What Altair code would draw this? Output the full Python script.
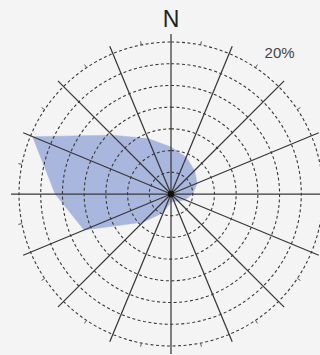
import altair as alt
import numpy as np
import pandas as pd

# Wind rose: frequency (%) of wind from each of 16 compass directions
directions = ["N", "NNE", "NE", "ENE", "E", "ESE", "SE", "SSE",
              "S", "SSW", "SW", "WSW", "W", "WNW", "NW", "NNW"]
freq = [6.5, 5.5, 4.6, 3.9, 3.0, 2.1, 1.4, 1.1,
        1.1, 2.8, 5.5, 13.0, 16.0, 20.7, 11.5, 8.3]
ring_levels = [3, 6, 9, 12, 15, 18, 21]

OUTER = 21.0
SPOKE = 22.1
PX = 152 / OUTER          # pixels per percent
W, H = 320, 355
CX, CY = 171, 194          # centre of the rose in the view

xdom = [-CX / PX, (W - CX) / PX]
ydom = [-(H - CY) / PX, CY / PX]
xs = alt.Scale(domain=xdom, nice=False, zero=False)
ys = alt.Scale(domain=ydom, nice=False, zero=False)

GRID = "#383838"
FILL = "#a9b6dd"

rose = pd.DataFrame({
    "dir": directions,
    "freq": freq,
    "idx": range(len(directions)),
})
rose["angle"] = rose["idx"] * 22.5

polygon = alt.Chart(rose).transform_calculate(
    px="datum.freq * sin(datum.angle * PI / 180)",
    py="datum.freq * cos(datum.angle * PI / 180)",
).mark_line(interpolate="linear-closed", fill=FILL, stroke=FILL,
            strokeWidth=0.5).encode(
    x=alt.X("px:Q", scale=xs, axis=None),
    y=alt.Y("py:Q", scale=ys, axis=None),
    order=alt.Order("idx:Q"),
)

# Dashed concentric rings
theta = np.arange(0, 361, 2.0)
rings = pd.DataFrame(
    [(lvl, t) for lvl in ring_levels for t in theta],
    columns=["level", "t"],
)
ring_layer = alt.Chart(rings).transform_calculate(
    rx="datum.level * sin(datum.t * PI / 180)",
    ry="datum.level * cos(datum.t * PI / 180)",
).mark_line(stroke="#3a3a3a", strokeWidth=1.1, strokeDash=[3, 2.5]).encode(
    x=alt.X("rx:Q", scale=xs, axis=None),
    y=alt.Y("ry:Q", scale=ys, axis=None),
    detail="level:N",
    order=alt.Order("t:Q"),
)

# Radial spokes for the 16 directions
spokes = alt.Chart(rose).transform_calculate(
    x0="0", y0="0",
    x1=f"{SPOKE} * sin(datum.angle * PI / 180)",
    y1=f"{SPOKE} * cos(datum.angle * PI / 180)",
).mark_rule(stroke=GRID, strokeWidth=1.25).encode(
    x=alt.X("x0:Q", scale=xs, axis=None),
    y=alt.Y("y0:Q", scale=ys, axis=None),
    x2="x1:Q",
    y2="y1:Q",
)

# Small ticks on the outer ring, midway between spokes
ticks = alt.Chart(rose).transform_calculate(
    a="(datum.angle + 11.25) * PI / 180",
    x0=f"{OUTER} * sin(datum.a)",
    y0=f"{OUTER} * cos(datum.a)",
    x1=f"{OUTER + 0.5} * sin(datum.a)",
    y1=f"{OUTER + 0.5} * cos(datum.a)",
).mark_rule(stroke="#555555", strokeWidth=1).encode(
    x=alt.X("x0:Q", scale=xs, axis=None),
    y=alt.Y("y0:Q", scale=ys, axis=None),
    x2="x1:Q",
    y2="y1:Q",
)

centre = alt.Chart(pd.DataFrame({"x": [0], "y": [0]})).mark_point(
    filled=True, color="#111111", size=40, opacity=1
).encode(
    x=alt.X("x:Q", scale=xs, axis=None),
    y=alt.Y("y:Q", scale=ys, axis=None),
)

labels = pd.DataFrame({
    "text": ["N", "20%"],
    "lx": [0.0, 15.0],
    "ly": [24.1, 19.5],
})
north = alt.Chart(labels.iloc[[0]]).mark_text(
    fontSize=23, color="#222222", font="Liberation Sans"
).encode(
    x=alt.X("lx:Q", scale=xs, axis=None),
    y=alt.Y("ly:Q", scale=ys, axis=None),
    text="text:N",
)
pct = alt.Chart(labels.iloc[[1]]).mark_text(
    fontSize=15, color="#444444", font="Liberation Sans"
).encode(
    x=alt.X("lx:Q", scale=xs, axis=None),
    y=alt.Y("ly:Q", scale=ys, axis=None),
    text="text:N",
)

chart = alt.layer(
    polygon, ring_layer, spokes, ticks, centre, north, pct
).properties(
    width=W, height=H, padding=0, background="#f4f4f4",
    autosize=alt.AutoSizeParams(type="none"),
).configure_view(stroke=None)

chart.save("out.html", embed_options={"renderer": "svg", "actions": False})
